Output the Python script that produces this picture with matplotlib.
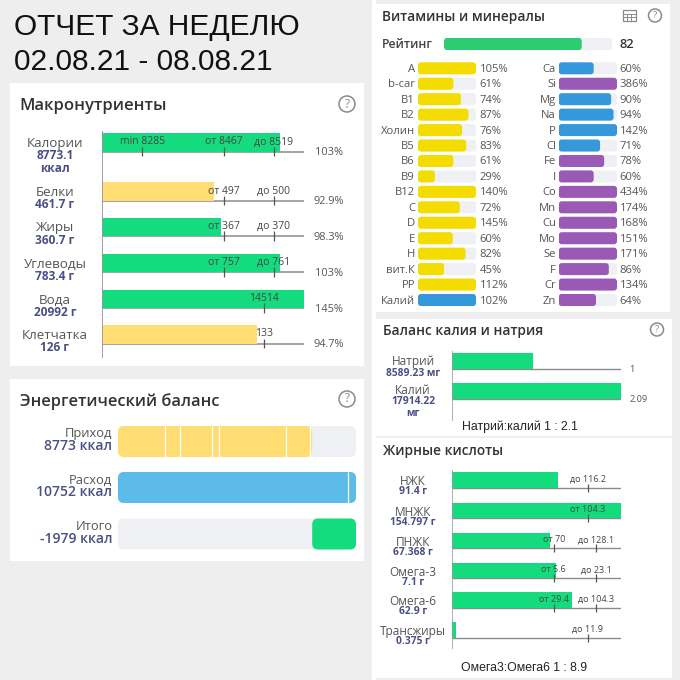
import matplotlib
matplotlib.use('Agg')
import matplotlib.pyplot as plt
from matplotlib.patches import FancyBboxPatch, Rectangle, Circle

plt.rcParams['font.family'] = ['Open Sans', 'DejaVu Sans']

# Makronutrienten: Balkenlaenge in % der Achse, Marken ebenso
macro_names = ['Калории', 'Белки', 'Жиры', 'Углеводы', 'Вода', 'Клетчатка']
macro_values = ['8773.1\nккал', '461.7 г', '360.7 г', '783.4 г', '20992 г', '126 г']
macro_bars = [88, 55.5, 59, 88, 100, 76.5]
macro_colors = ['g', 'y', 'g', 'g', 'g', 'y']
macro_pct = ['103%', '92.9%', '98.3%', '103%', '145%', '94.7%']
macro_ticks = [[(20, 'min 8285'), (60.3, 'от 8467'), (85, 'до 8519')],
               [(60.3, 'от 497'), (85, 'до 500')],
               [(60.3, 'от 367'), (85, 'до 370')],
               [(60.3, 'от 757'), (85, 'до 761')],
               [(80.3, '14514')],
               [(80.3, '133')]]

# Energiebilanz in kcal
energy_names = ['Приход', 'Расход', 'Итого']
energy_labels = ['8773 ккал', '10752 ккал', '-1979 ккал']
energy_in = 8773
energy_out = 10752
energy_meals = [2130, 2810, 4265, 4580, 7575, 8680]
energy_out_mark = 10400

# Vitamine und Mineralstoffe
rating = 82
vit_names = ['A', 'b-car', 'B1', 'B2', 'Холин', 'B5', 'B6', 'B9', 'B12', 'C', 'D', 'E', 'H', 'вит.К', 'PP', 'Калий']
vit_pct = [105, 61, 74, 87, 76, 83, 61, 29, 140, 72, 145, 60, 82, 45, 112, 102]
min_names = ['Ca', 'Si', 'Mg', 'Na', 'P', 'Cl', 'Fe', 'I', 'Co', 'Mn', 'Cu', 'Mo', 'Se', 'F', 'Cr', 'Zn']
min_pct = [60, 386, 90, 94, 142, 71, 78, 60, 434, 174, 168, 151, 171, 86, 134, 64]
min_purple = ['Si', 'Fe', 'I', 'Co', 'Mn', 'Cu', 'Mo', 'Se', 'F', 'Cr', 'Zn']

# Kalium / Natrium
kn_names = ['Натрий', 'Калий']
kn_labels = ['8589.23 мг', '17914.22\nмг']
kn_mg = [8589.23, 17914.22]
kn_ratio = ['1', '2.09']

# Fettsaeuren: Balkenlaenge in % der Achse
fat_names = ['НЖК', 'МНЖК', 'ПНЖК', 'Омега-3', 'Омега-6', 'Трансжиры']
fat_labels = ['91.4 г', '154.797 г', '67.368 г', '7.1 г', '62.9 г', '0.375 г']
fat_bars = [63, 100, 58, 61.5, 71, 2.3]
fat_ticks = [[(80.3, 'до 116.2')],
             [(80.3, 'от 104.3')],
             [(60.3, 'от 70'), (85.2, 'до 128.1')],
             [(60.3, 'от 5.6'), (85.2, 'до 23.1')],
             [(60.3, 'от 29.4'), (85.2, 'до 104.3')],
             [(80.3, 'до 11.9')]]

GREEN = '#15db7f'
YELLOW = '#ffdd73'
SKY = '#5cbbe9'
TRACK = '#eff0f3'
GREY = '#555555'
NAVY = '#4a4f85'
LINE = '#8c8c8c'
SANS = 'Liberation Sans'
W = H = 680

fig = plt.figure(figsize=(6.8, 6.8), dpi=100, facecolor='#eeeeee')

# Overlay in Pixelkoordinaten fuer Karten und Texte
bg = fig.add_axes([0, 0, 1, 1])
bg.set_xlim(0, W)
bg.set_ylim(H, 0)
bg.axis('off')


def sub_axes(x0, y0, x1, y1, xmax):
    # Achse ueber einem Pixelbereich, x in Datenwerten, y in Pixeln von oben
    ax = fig.add_axes([x0 / W, 1 - y1 / H, (x1 - x0) / W, (y1 - y0) / H])
    ax.set_xlim(0, xmax)
    ax.set_ylim(y1, y0)
    ax.axis('off')
    ax.patch.set_alpha(0)
    return ax


def round_bar(ax, left, width, yc, h, color, r=2.0, zorder=2):
    pos = ax.get_position()
    x_per_px = (ax.get_xlim()[1] - ax.get_xlim()[0]) / (pos.width * W)
    r = min(r, width / x_per_px / 2)
    # rounding in y-Pixeln, x-Achse ueber mutation_aspect angepasst
    ax.add_patch(FancyBboxPatch((left, yc - h / 2), width, h,
                                boxstyle='round,pad=0,rounding_size=%f' % (r * x_per_px),
                                mutation_aspect=1 / x_per_px,
                                fc=color, ec='none', zorder=zorder))


def card(x0, y0, x1, y1):
    bg.add_patch(Rectangle((x0, y0), x1 - x0, y1 - y0, fc='white', ec='none', zorder=1))


def help_icon(x, y, r=8):
    bg.add_patch(Circle((x, y), r, fc='none', ec='#8a8a8a', lw=1.1, zorder=3))
    bg.text(x, y, '?', ha='center', va='center', fontsize=r * 1.05, color='#8a8a8a', zorder=3)


def title(x, y, s, size):
    bg.text(x, y, s, ha='left', va='center', fontsize=size, color='#333333', fontweight='semibold', zorder=3)


def row_label(x, y, name, value, size=9.2, vsize=8.6, gap=12):
    bg.text(x, y, name, ha='center', va='center', fontsize=size, color=GREY, zorder=3)
    if '\n' in value:
        bg.text(x, y + gap - 6, value, ha='center', va='top', fontsize=vsize, color=NAVY,
                fontweight='bold', linespacing=1.05, zorder=3)
    else:
        bg.text(x, y + gap, value, ha='center', va='center', fontsize=vsize, color=NAVY,
                fontweight='bold', zorder=3)


# Ueberschrift
bg.axvspan(372, 375, color='white', zorder=0.5)
bg.text(14, 27, 'ОТЧЕТ ЗА НЕДЕЛЮ', fontsize=21.5, family=SANS, color='#111111', va='center')
bg.text(14, 62.5, '02.08.21 - 08.08.21', fontsize=21.5, family=SANS, color='#111111', va='center')

# --- Macronutrients ---
card(9.5, 83, 364, 366)
title(19, 105.5, 'Макронутриенты', 12)
help_icon(347, 104)
macro_bottom = [151.5, 200.5, 236, 272, 308, 343.5]
macro_h = 18.5
ax = sub_axes(102, 125, 304, 365, 100)
ax.vlines(0, 131, 358, color='#999999', lw=1.3, zorder=4)
for i, name in enumerate(macro_names):
    y = macro_bottom[i]
    ax.barh(y - macro_h / 2, macro_bars[i], macro_h, color=GREEN if macro_colors[i] == 'g' else YELLOW, zorder=2)
    ax.hlines(y, 0, 100, color=LINE, lw=1.1, zorder=1)
    for pos, lab in macro_ticks[i]:
        ax.vlines(pos, y - 5, y + 4.5, color='#555555', lw=0.9, zorder=3)
        ax.text(pos, y - 9.5, lab, ha='center', va='center', fontsize=7.5, color='#444444', zorder=4)
    bg.text(329, y + 1, macro_pct[i], ha='center', va='center', fontsize=7.9, color=GREY, zorder=3)
    row_label(55, y - 8 if i else 143, name, macro_values[i], size=9.6, vsize=8.6, gap=12)

# --- Energy balance ---
card(9.5, 379, 364, 561)
title(20, 401.5, 'Энергетический баланс', 11.8)
help_icon(347, 399)
ax = sub_axes(118, 420, 356, 555, energy_out)
energy_y = [441.5, 487.5, 534]
for y in energy_y:
    round_bar(ax, 0, energy_out, y, 31, TRACK, r=6, zorder=1)
round_bar(ax, 0, energy_in, energy_y[0], 31, YELLOW, r=6)
round_bar(ax, 0, energy_out, energy_y[1], 31, SKY, r=6)
round_bar(ax, energy_in, energy_out - energy_in, energy_y[2], 31, GREEN, r=6)
ax.vlines(energy_meals, energy_y[0] - 15.5, energy_y[0] + 15.5, color='white', lw=0.9, zorder=3)
ax.vlines(energy_out_mark, energy_y[1] - 15.5, energy_y[1] + 15.5, color='white', lw=0.9, zorder=3)
for i, y in enumerate(energy_y):
    bg.text(112.5, y - 7.5, energy_names[i], ha='right', va='center', fontsize=9.3, color=GREY, zorder=3)
    bg.text(112.5, y + 5, energy_labels[i], ha='right', va='center', fontsize=10, color=NAVY,
            fontweight='semibold', zorder=3)

# --- Vitamins and minerals ---
card(375, 4, 670, 312)
title(382, 17, 'Витамины и минералы', 9.9)
help_icon(655, 15.5, 6.5)
# Tabellensymbol
bg.add_patch(Rectangle((622.5, 10), 13, 11, fc='none', ec='#8a8a8a', lw=0.9, zorder=3))
bg.hlines([13.5, 17], 622.5, 635.5, color='#8a8a8a', lw=0.7, zorder=3)
bg.vlines([627, 631], 13.5, 21, color='#8a8a8a', lw=0.7, zorder=3)

bg.text(382, 45, 'Рейтинг', ha='left', va='center', fontsize=8.8, color='#444444', fontweight='semibold', zorder=3)
ax = sub_axes(444, 36, 612, 52, 100)
round_bar(ax, 0, 100, 44, 12, TRACK, r=3, zorder=1)
round_bar(ax, 0, rating, 44, 12, '#2ecc71', r=3)
bg.text(620, 45, str(rating), ha='left', va='center', fontsize=9.3, color='#333333', fontweight='semibold', zorder=3)

row_step = (300 - 68.3) / 15
row_y = [68.3 + row_step * i for i in range(16)]

ax = sub_axes(418, 60, 476, 310, 100)
for i, pct in enumerate(vit_pct):
    round_bar(ax, 0, 100, row_y[i], 12, TRACK, r=3, zorder=1)
    round_bar(ax, 0, min(pct, 100), row_y[i], 12, '#3498db' if vit_names[i] == 'Калий' else '#f5dc00', r=3)
    bg.text(415, row_y[i] + 1, vit_names[i], ha='right', va='center', fontsize=8.1, color=GREY, zorder=3)
    bg.text(479.5, row_y[i] + 1, '%d%%' % pct, ha='left', va='center', fontsize=8.1, color=GREY, zorder=3)

ax = sub_axes(558.7, 60, 617, 310, 100)
for i, pct in enumerate(min_pct):
    color = '#9b59b6' if min_names[i] in min_purple else '#3498db'
    round_bar(ax, 0, 100, row_y[i], 12, TRACK, r=3, zorder=1)
    round_bar(ax, 0, min(pct, 100), row_y[i], 12, color, r=3)
    bg.text(556, row_y[i] + 1, min_names[i], ha='right', va='center', fontsize=8.1, color=GREY, zorder=3)
    bg.text(619.5, row_y[i] + 1, '%d%%' % pct, ha='left', va='center', fontsize=8.1, color=GREY, zorder=3)

# --- Potassium / sodium balance ---
card(374, 319, 672, 436)
title(383, 330.5, 'Баланс калия и натрия', 9.9)
help_icon(657, 329.5, 6.5)
ax = sub_axes(451.7, 345, 620.7, 425, max(kn_mg))
ax.vlines(0, 351, 421, color='#999999', lw=1.1, zorder=4)
kn_bottom = [368.5, 398.5]
kn_label_y = [361.5, 391]
for i, mg in enumerate(kn_mg):
    ax.barh(kn_bottom[i] - 8, mg, 16, color=GREEN, zorder=2)
    ax.hlines(kn_bottom[i], 0, max(kn_mg), color=LINE, lw=1, zorder=1)
    bg.text(629, kn_bottom[i] + 0.5, kn_ratio[i], ha='left', va='center', fontsize=6.6, color=GREY, zorder=3)
    row_label(413, kn_label_y[i], kn_names[i], kn_labels[i], size=8.6, vsize=7.4, gap=11.5)
bg.text(520, 427, 'Натрий:калий 1 : 2.1', ha='center', va='center', fontsize=8.8, family=SANS, color='#222222', zorder=3)

# --- Fatty acids ---
card(374, 438, 672, 678)
title(383, 450.5, 'Жирные кислоты', 9.9)
ax = sub_axes(451.7, 465, 621, 655, 100)
ax.vlines(0, 470, 649, color='#999999', lw=1.1, zorder=4)
fat_bottom = [487.5, 518, 548, 578, 607.5, 637.5]
for i, name in enumerate(fat_names):
    y = fat_bottom[i]
    ax.barh(y - 7.5, fat_bars[i], 15.5, color=GREEN, zorder=2)
    ax.hlines(y, 0, 100, color=LINE, lw=1, zorder=1)
    for pos, lab in fat_ticks[i]:
        ax.vlines(pos, y - 4, y + 4, color='#555555', lw=0.9, zorder=3)
        ax.text(pos, y - 8, lab, ha='center', va='center', fontsize=6.5, color='#444444', zorder=4)
    row_label(413, y - 6, name, fat_labels[i], size=8.6, vsize=7.4, gap=10.5)
bg.text(524, 668, 'Омега3:Омега6 1 : 8.9', ha='center', va='center', fontsize=8.8, family=SANS, color='#222222', zorder=3)

fig.savefig('out.png', dpi=100, facecolor=fig.get_facecolor())
